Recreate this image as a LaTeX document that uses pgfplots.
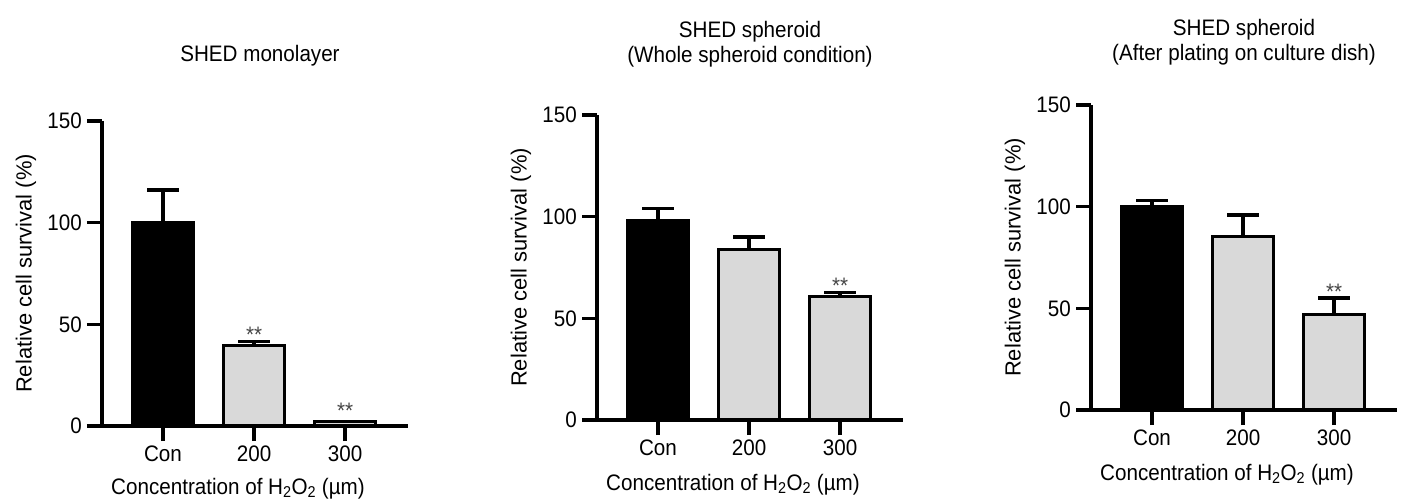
\documentclass[border=0pt]{standalone}
\usepackage{pgfplots}
\pgfplotsset{compat=1.18}
\usepackage{fontspec}
\setmainfont{Liberation Sans}[FakeStretch=0.92]
\newfontfamily\ylabfont{Liberation Sans}
\definecolor{barg}{RGB}{217,217,217}
\definecolor{ast}{RGB}{70,70,70}
\pgfplotsset{
 panel/.style={
  scale only axis, width=306bp, height=305bp,
  anchor=south west,
  xmin=-0.67, xmax=2.69, ymin=0, ymax=150,
  axis x line*=bottom, axis y line*=left,
  axis line style={line width=3.5bp, black},
  tick align=outside, major tick length=15bp,
  tick style={line width=3.5bp, black},
  xtick={0,1,2}, xticklabels={Con,200,300},
  ytick={0,50,100,150},
  /pgf/number format/assume math mode=true,
  xticklabel style={anchor=base, yshift=-20bp, inner sep=0pt},
  yticklabel style={anchor=east, xshift=-5bp, inner sep=0pt},
  every axis y label/.style={at={(rel axis cs:0,0.5)}, xshift=-76bp, rotate=90, anchor=center, font=\ylabfont\fontsize{22}{26}\selectfont},
  every axis x label/.style={at={(rel axis cs:0.5,0)}, xshift=-17bp, yshift=-70bp, anchor=base},
  xlabel={Concentration of H\textsubscript{2}O\textsubscript{2} (µm)},
  ylabel={Relative cell survival (\%)},
  every axis title/.style={at={(rel axis cs:0.5,1)}, anchor=base, align=center},
  ybar, bar width=61bp,
  error bars/y dir=plus, error bars/y explicit,
  error bars/error bar style={line width=3.5bp, black},
  error bars/error mark options={rotate=90, line width=3.5bp, mark size=16bp, black},
 }
}
\begin{document}
\fontsize{22.5}{26}\selectfont
\begin{tikzpicture}
\path[use as bounding box] (0,0) rectangle (1424bp,499bp);
% Panel 1
\begin{axis}[panel, at={(102bp,73bp)}, title={SHED monolayer},
  title style={yshift=59bp, xshift=5bp},
  every axis x label/.append style={yshift=2bp}]
 \addplot[fill=black, draw=black, line width=3bp, bar shift=0pt] coordinates {(0,100) += (0,16)};
 \addplot[fill=barg, draw=black, line width=3bp, bar shift=0pt] coordinates {(1,39.5) += (0,2) (2,2) += (0,0.3)};
 \node[ast, anchor=base, yshift=-1bp] at (axis cs:1,41.5) {**};
 \node[ast, anchor=base, yshift=-1bp] at (axis cs:2,4) {**};
\end{axis}
% Panel 2
\begin{axis}[panel, at={(597bp,79bp)}, title={SHED spheroid\\(Whole spheroid condition)},
  title style={yshift=52bp}]
 \addplot[fill=black, draw=black, line width=3bp, bar shift=0pt] coordinates {(0,98) += (0,6)};
 \addplot[fill=barg, draw=black, line width=3bp, bar shift=0pt] coordinates {(1,84) += (0,6) (2,60.5) += (0,2.3)};
 \node[ast, anchor=base, yshift=-1bp] at (axis cs:2,62.8) {**};
\end{axis}
% Panel 3
\begin{axis}[panel, at={(1091bp,89bp)}, title={SHED spheroid\\(After plating on culture dish)},
  title style={yshift=44bp}]
 \addplot[fill=black, draw=black, line width=3bp, bar shift=0pt] coordinates {(0,100) += (0,3)};
 \addplot[fill=barg, draw=black, line width=3bp, bar shift=0pt] coordinates {(1,85.5) += (0,10.3) (2,47) += (0,8)};
 \node[ast, anchor=base, yshift=-1bp] at (axis cs:2,55) {**};
\end{axis}
\end{tikzpicture}
\end{document}
